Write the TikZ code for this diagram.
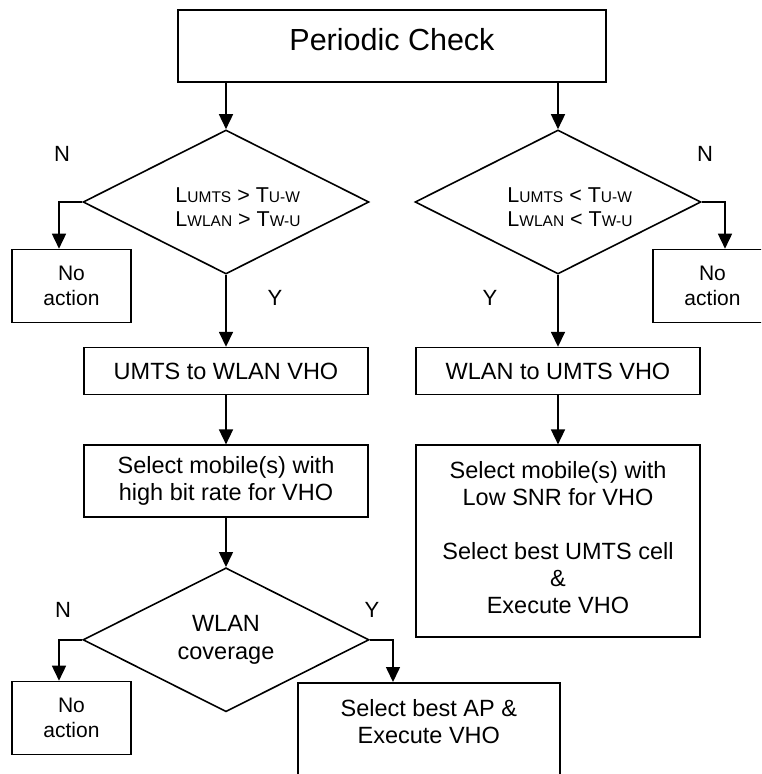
\documentclass[tikz,border=0pt]{standalone}
\usepackage{fontspec}
\setmainfont{Liberation Sans}
\usepackage{tikz}
\usetikzlibrary{shapes.geometric, arrows.meta, positioning}
\newcommand{\lsub}[1]{{\fontsize{15.5}{15.5}\selectfont #1}}
\begin{document}
\begin{tikzpicture}[
      x=1pt, y=-1pt,
      font=\fontsize{23.5}{27}\selectfont,
      line width=1.6pt,
      box/.style={rectangle, draw=black, align=center, minimum height=47pt, minimum width=284pt, inner sep=0pt},
      noact/.style={rectangle, draw=black, align=center, minimum height=73pt, minimum width=119pt, inner sep=0pt, font=\fontsize{21}{24.5}\selectfont},
      dec/.style={diamond, draw=black, aspect=2, align=center, minimum width=286pt, minimum height=144pt, inner sep=0pt, font=\fontsize{23.5}{28}\selectfont},
      cond/.style={align=left, font=\fontsize{21.5}{24}\selectfont, xshift=12pt, yshift=-5pt},
      yn/.style={font=\fontsize{22}{22}\selectfont},
      arr/.style={-{Triangle[length=15pt, width=14pt]}, line width=1.6pt},
    ]
    \useasboundingbox (0,0) rectangle (761,774);
    \clip (0,0) rectangle (761,774);

    \node[box, minimum width=428pt, minimum height=72pt, text depth=14pt, font=\fontsize{30.5}{30.5}\selectfont] (check) at (392,46) {Periodic Check};
    \node[dec, label={[cond]center:L\lsub{UMTS} > T\lsub{U-W}\\L\lsub{WLAN} > T\lsub{W-U}}] (dl) at (226,202) {};
    \node[dec, label={[cond]center:L\lsub{UMTS} < T\lsub{U-W}\\L\lsub{WLAN} < T\lsub{W-U}}] (dr) at (558,202) {};
    \node[noact] (noleft) at (71.5,286) {No\\action};
    \node[noact] (noright) at (712.5,286) {No\\action};
    \node[box, below=72pt of dl] (uw) {UMTS to WLAN VHO};
    \node[box, below=72pt of dr] (wu) {WLAN to UMTS VHO};
    \node[box, below=49pt of uw, minimum height=72pt] (selhigh) {Select mobile(s) with\\high bit rate for VHO};
    \node[box, below=49pt of wu, minimum height=192pt, text depth=8pt] (sellow) {Select mobile(s) with\\Low SNR for VHO\\[27pt]Select best UMTS cell\\\&\\Execute VHO};
    \node[dec, below=49pt of selhigh] (cov) {WLAN\\coverage};
    \node[noact] (nocov) at (71.5,718) {No\\action};
    \node[box, anchor=north west, minimum width=262pt, minimum height=130pt,
      label={[anchor=north, yshift=-13pt, align=center]north:Select best AP \&\\Execute VHO}] (bestap) at (297,682) {};

    % yes / no marks
    \node[yn] (n1) at (62,154) {N};
    \node[yn] (n2) at (705,154) {N};
    \node[yn] (y1) at (275,298) {Y};
    \node[yn] (y2) at (490,298) {Y};
    \node[yn] (n3) at (63,610) {N};
    \node[yn] (y3) at (372,610) {Y};

    \draw[arr] (check.south -| dl) -- (dl);
    \draw[arr] (check.south -| dr) -- (dr);
    \draw[arr] (dl.west) -| ([xshift=-12.5pt]noleft.north);
    \draw[arr] (dr.east) -| ([xshift=12.5pt]noright.north);
    \draw[arr] (dl) -- (uw);
    \draw[arr] (dr) -- (wu);
    \draw[arr] (uw) -- (selhigh);
    \draw[arr] (wu) -- (sellow);
    \draw[arr] (selhigh) -- (cov);
    \draw[arr] (cov.west) -| ([xshift=-12.5pt]nocov.north);
    \draw[arr] (cov.east) -| ([xshift=96pt]bestap.north west);
  \end{tikzpicture}
\end{document}
